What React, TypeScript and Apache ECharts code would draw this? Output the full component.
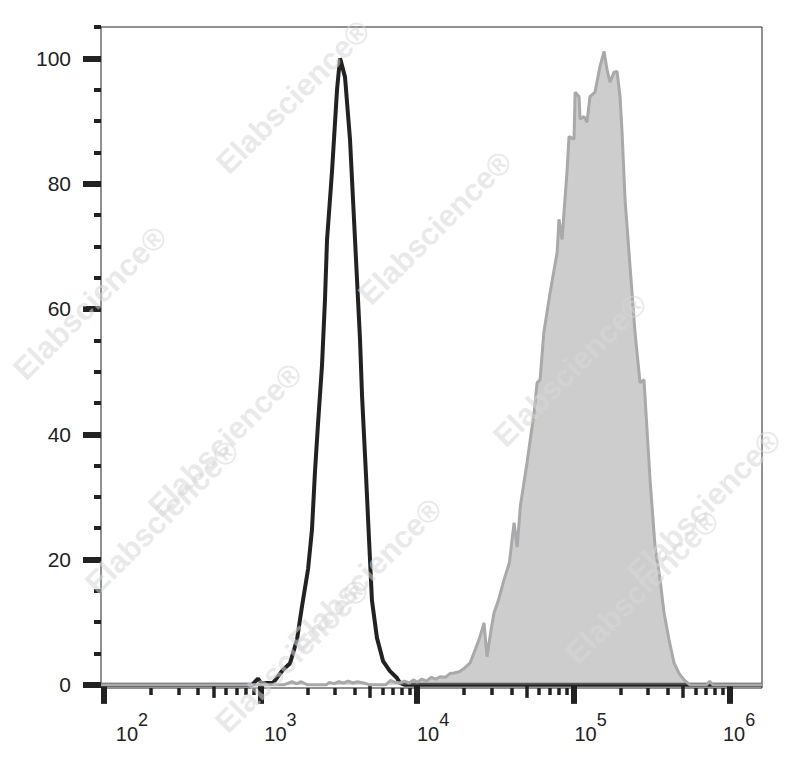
import React, { useEffect, useRef } from "react";
import * as echarts from "echarts";

// ---- axis definitions (log10 of fluorescence) ----
const xMin = 1.981;
const xMax = 6.204;
const xMajorExp = [2, 3, 4, 5, 6];
const xLabelShift = [12, 4, 0, 1, -7];
const xMidMultipliers = [5];
const xMinorMultipliers = [2, 3, 4, 6, 7, 8, 9];
const xDecades = [2, 3, 4, 5];

const yMin = -0.5;
const yMax = 105;
const yMajorTicks = [0, 20, 40, 60, 80, 100];
const yMinorTicks = [5, 10, 15, 25, 30, 35, 45, 50, 55, 65, 70, 75, 85, 90, 95, 105];

// ---- isotype control (black outline), x = log10(intensity), y = % of max ----
const isotypeLog = [
  1.981, 2.946, 2.984, 3.003, 3.08, 3.144, 3.188, 3.233, 3.265, 3.304, 3.329, 3.348,
  3.367, 3.393, 3.412, 3.425, 3.457, 3.489, 3.508, 3.514, 3.54, 3.572, 3.604, 3.623,
  3.636, 3.649, 3.675, 3.69, 3.712, 3.744, 3.783, 3.827, 3.872, 3.891, 3.923, 6.204,
];
const isotypeCount = [
  0, 0, 1.0, 0.3, 0.3, 2.4, 3.4, 7.2, 12.5, 18.5, 24.8, 34,
  41.5, 51, 61.5, 71, 82, 95, 100, 99.5, 97, 87, 71, 61.5,
  55, 46, 33, 25, 13.5, 7.5, 3.8, 2.2, 1.1, 0.3, 0, 0,
];

// ---- stained sample (grey filled) ----
const stainedLog = [
  1.981, 3.15, 3.2, 3.23, 3.26, 3.3, 3.42, 3.44, 3.47, 3.5, 3.53, 3.56, 3.59, 3.62,
  3.66, 3.7, 3.8, 3.83, 3.86, 3.89, 3.92, 3.95, 3.98, 4.0, 4.03, 4.06, 4.09, 4.12,
  4.147, 4.18, 4.21, 4.236, 4.27, 4.3, 4.339, 4.37, 4.4, 4.428, 4.447, 4.47, 4.492,
  4.52, 4.556, 4.59, 4.62, 4.64, 4.66, 4.703, 4.748, 4.767, 4.786, 4.81, 4.85, 4.895,
  4.907, 4.927, 4.939, 4.958, 4.971, 5.003, 5.01, 5.035, 5.042, 5.067, 5.086, 5.105,
  5.137, 5.169, 5.195, 5.214, 5.233, 5.259, 5.278, 5.297, 5.31, 5.329, 5.361, 5.393,
  5.425, 5.45, 5.489, 5.521, 5.553, 5.578, 5.61, 5.642, 5.675, 5.706, 5.744, 5.85,
  5.87, 5.89, 6.204,
];
const stainedCount = [
  0, 0, 0.5, 0.2, 0.5, 0, 0, 0.4, 0.2, 0.5, 0.3, 0.6, 0.3, 0.5,
  0.3, 0, 0, 0.7, 0.4, 0.3, 0.6, 0.3, 0.8, 0.4, 0.9, 0.6, 1.2, 0.9,
  1.3, 1.2, 1.8, 1.9, 2.1, 2.6, 3.5, 5.5, 7.5, 9.9, 4.5, 8.3, 11.5,
  13.5, 16.8, 19.5, 25.9, 22.0, 28.5, 35.5, 43.5, 48.2, 48.7, 56.2, 62.6, 69,
  74.3, 71.1, 75.4, 81.8, 87.5, 87.1, 94.6, 93.9, 90.3, 90.7, 89.8, 93.9,
  94.6, 98.7, 101.1, 98.2, 96.2, 97.8, 97.9, 93.9, 88.2, 77.5, 66.8, 56.2,
  48.2, 48.7, 32.7, 22.0, 16.8, 11.5, 7.2, 3.5, 1.8, 0.8, 0, 0,
  0.6, 0, 0,
];

// ---- faint watermark positions (decoration) ----
const watermarkCenters: [number, number][] = [
  [293, 97], [435, 228], [570, 370], [704, 506],
  [90, 303], [225, 440], [365, 575],
  [162, 517], [292, 656], [642, 587],
];

const FONT = "'Liberation Sans', Arial, Helvetica, sans-serif";
const INK = "#222222";

export default function App() {
  const ref = useRef<HTMLDivElement>(null);

  useEffect(() => {
    if (!ref.current) return;
    const chart = echarts.init(ref.current, undefined, { renderer: "svg" });

    const isotype = isotypeLog.map((x, i) => [x, isotypeCount[i]]);
    const stained = stainedLog.map((x, i) => [x, stainedCount[i]]);

    const midTicks: number[] = [];
    const minorTicks: number[] = [];
    xDecades.forEach((d) => {
      xMidMultipliers.forEach((m) => midTicks.push(d + Math.log10(m)));
      xMinorMultipliers.forEach((m) => minorTicks.push(d + Math.log10(m)));
    });

    const labelW = 32;
    const rich: Record<string, any> = {
      b: { fontSize: 20, lineHeight: 33, verticalAlign: "bottom", color: INK, fontFamily: FONT },
      s: { fontSize: 18, lineHeight: 18, verticalAlign: "top", color: INK, fontFamily: FONT },
    };
    xLabelShift.forEach((d, i) => {
      rich["sp" + i] = { width: Math.max(0, 2 * d + labelW), height: 1 };
    });

    const baseX = {
      type: "value",
      min: xMin,
      max: xMax,
      position: "bottom",
      axisLine: { show: false },
      splitLine: { show: false },
    };
    const baseY = {
      type: "value",
      min: yMin,
      max: yMax,
      position: "left",
      axisLine: { show: false },
      splitLine: { show: false },
    };

    chart.setOption({
      animation: false,
      backgroundColor: "#ffffff",
      grid: {
        left: 101,
        right: 25,
        top: 27,
        bottom: 92,
        show: true,
        borderColor: INK,
        borderWidth: 1,
        backgroundColor: "transparent",
      },
      xAxis: [
        {
          ...baseX,
          axisTick: { customValues: xMajorExp, length: 19, lineStyle: { width: 6, color: INK } },
          axisLabel: {
            customValues: xMajorExp,
            margin: 23,
            align: "center",
            formatter: (v: number) => {
              const i = xMajorExp.indexOf(Math.round(v));
              return `{sp${i}|}{b|10}{s|${Math.round(v)}}`;
            },
            rich,
          },
        },
        {
          ...baseX,
          axisTick: { customValues: midTicks, length: 13, lineStyle: { width: 3.5, color: INK } },
          axisLabel: { show: false },
        },
        {
          ...baseX,
          axisTick: { customValues: minorTicks, length: 7, lineStyle: { width: 3.5, color: INK } },
          axisLabel: { show: false },
        },
      ],
      yAxis: [
        {
          ...baseY,
          axisTick: { customValues: yMajorTicks, length: 18, lineStyle: { width: 6, color: INK } },
          axisLabel: {
            customValues: yMajorTicks,
            margin: 30,
            fontSize: 21,
            color: INK,
            fontFamily: FONT,
          },
        },
        {
          ...baseY,
          axisTick: { customValues: yMinorTicks, length: 7, lineStyle: { width: 4, color: INK } },
          axisLabel: { show: false },
        },
      ],
      series: [
        {
          name: "Isotype",
          type: "line",
          data: isotype,
          xAxisIndex: 0,
          yAxisIndex: 0,
          showSymbol: false,
          symbol: "none",
          lineStyle: { color: "#222222", width: 4 },
          z: 2,
        },
        {
          name: "Stained",
          type: "line",
          data: stained,
          xAxisIndex: 0,
          yAxisIndex: 0,
          showSymbol: false,
          symbol: "none",
          lineStyle: { color: "#a9a9ab", width: 3 },
          areaStyle: { color: "rgba(145,145,145,0.46)", opacity: 1 },
          z: 3,
        },
      ],
      graphic: watermarkCenters.map(([x, y]) => ({
        type: "text",
        x,
        y,
        rotation: Math.PI / 4,
        silent: true,
        z: 100,
        style: {
          text: "Elabscience®",
          fontSize: 31,
          fontWeight: "bold",
          fontFamily: FONT,
          fill: "rgba(215,215,215,0.55)",
          align: "center",
          verticalAlign: "middle",
        },
      })),
    });

    return () => chart.dispose();
  }, []);

  return (
    <div
      ref={ref}
      style={{ position: "fixed", left: 0, top: 0, width: 787, height: 780, background: "#fff" }}
    />
  );
}
